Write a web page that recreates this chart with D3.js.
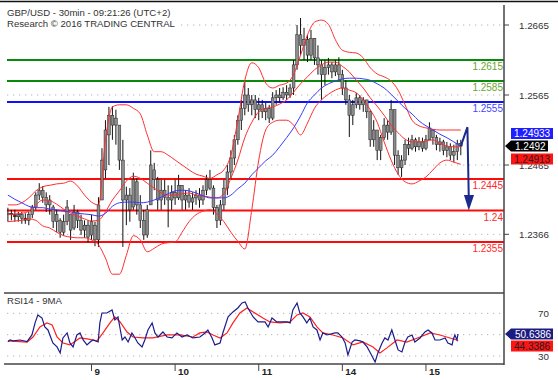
<!DOCTYPE html>
<html><head><meta charset="utf-8">
<script src="https://cdn.jsdelivr.net/npm/d3@7"></script>
<style>body{margin:0;background:#fff;}svg{display:block;font-family:"Liberation Sans",Arial,sans-serif;}</style>
</head><body>
<svg id="c" width="558" height="380"></svg>
<script>
// ---------- DATA (hourly candles, GBP/USD) ----------
const openP = [1.2394,1.2396,1.2394,1.2391,1.2394,1.2389,1.2386,1.2394,1.2405,1.2422,
1.2429,1.2419,1.2408,1.2405,1.2384,1.2386,1.2369,1.2384,1.2394,1.2375,
1.2398,1.2386,1.2372,1.2379,1.2365,1.2379,1.2358,1.2415,1.2458,1.2508,
1.2536,1.2522,1.2522,1.2472,1.2415,1.2422,1.2405,1.2441,1.2408,1.2386,
1.2365,1.2408,1.2458,1.2444,1.2415,1.2429,1.2419,1.2415,1.2426,1.2418,
1.2436,1.2415,1.2422,1.2412,1.2418,1.2422,1.2415,1.2429,1.2444,1.2432,
1.2404,1.2386,1.2408,1.2432,1.2455,1.2475,1.2501,1.2529,1.2546,1.2565,
1.2551,1.2558,1.2544,1.2551,1.2541,1.2546,1.2532,1.2561,1.2565,1.2561,
1.2569,1.2565,1.2575,1.2608,1.2651,1.2636,1.2644,1.2622,1.2646,1.2618,
1.2608,1.2594,1.2604,1.2608,1.2598,1.2608,1.2594,1.2575,1.2558,1.2536,
1.2551,1.2561,1.2551,1.2558,1.2541,1.2501,1.2515,1.2486,1.2504,1.2522,
1.2512,1.2544,1.2479,1.2461,1.2472,1.2494,1.2489,1.2501,1.2491,1.2498,
1.2489,1.2501,1.2515,1.2504,1.2494,1.2498,1.2486,1.2491,1.2479,1.2484,
1.2496];
const highP = [1.2404,1.2401,1.2401,1.2398,1.2398,1.2396,1.2398,1.2408,1.2426,1.2439,
1.2435,1.2426,1.2422,1.2408,1.2401,1.2389,1.2394,1.2415,1.2394,1.2408,
1.2401,1.2394,1.2386,1.2386,1.2394,1.2384,1.2419,1.2489,1.2529,1.2548,
1.2549,1.2544,1.2522,1.2501,1.2434,1.2432,1.2454,1.2446,1.2422,1.2401,
1.2408,1.2486,1.2468,1.2448,1.2444,1.2444,1.2436,1.2436,1.2444,1.2451,
1.2436,1.2429,1.2432,1.2426,1.2429,1.2432,1.2436,1.2451,1.2458,1.2436,
1.2408,1.2415,1.2444,1.2465,1.2486,1.2508,1.2536,1.2558,1.2584,1.2575,
1.2565,1.2565,1.2561,1.2558,1.2554,1.2551,1.2569,1.2572,1.2575,1.2576,
1.2579,1.2581,1.2615,1.2665,1.2675,1.2661,1.2651,1.2658,1.2646,1.2636,
1.2615,1.2615,1.2618,1.2612,1.2615,1.2619,1.2601,1.2586,1.2565,1.2558,
1.2568,1.2565,1.2562,1.2558,1.2544,1.2529,1.2515,1.2508,1.2532,1.2529,
1.2558,1.2544,1.2486,1.2479,1.2501,1.2504,1.2508,1.2504,1.2505,1.2504,
1.2508,1.2526,1.2515,1.2508,1.2504,1.2501,1.2498,1.2496,1.2494,1.2501,
1.2501];
const lowP = [1.2384,1.2386,1.2384,1.2384,1.2381,1.2381,1.2379,1.2389,1.2401,1.2415,
1.2411,1.2398,1.2394,1.2375,1.2369,1.2361,1.2364,1.2379,1.2358,1.2372,
1.2375,1.2365,1.2361,1.2354,1.2358,1.2349,1.2348,1.2415,1.2446,1.2465,
1.2501,1.2494,1.2458,1.2348,1.2379,1.2384,1.2401,1.2394,1.2375,1.2358,
1.2361,1.2408,1.2429,1.2401,1.2401,1.2408,1.2376,1.2401,1.2408,1.2415,
1.2401,1.2401,1.2404,1.2401,1.2408,1.2404,1.2408,1.2422,1.2429,1.2394,
1.2375,1.2379,1.2401,1.2422,1.2444,1.2465,1.2494,1.2515,1.2536,1.2541,
1.2536,1.2532,1.2529,1.2532,1.2529,1.2525,1.2529,1.2551,1.2554,1.2558,
1.2558,1.2561,1.2565,1.2601,1.2622,1.2615,1.2612,1.2615,1.2608,1.2594,
1.2558,1.2579,1.2594,1.2589,1.2592,1.2586,1.2565,1.2551,1.2505,1.2522,
1.2546,1.2544,1.2541,1.2532,1.2491,1.2491,1.2472,1.2472,1.2501,1.2501,
1.2508,1.2465,1.2451,1.2448,1.2465,1.2479,1.2486,1.2484,1.2486,1.2484,
1.2486,1.2501,1.2494,1.2486,1.2484,1.2479,1.2476,1.2472,1.2469,1.2472,
1.2479];
const closeP = [1.2396,1.2394,1.2391,1.2394,1.2389,1.2386,1.2394,1.2405,1.2422,1.2429,
1.2419,1.2408,1.2415,1.2384,1.2394,1.2369,1.2384,1.2405,1.2372,1.2398,
1.2386,1.2372,1.2379,1.2362,1.2384,1.2358,1.2408,1.2472,1.2515,1.2536,
1.2522,1.2532,1.2472,1.2415,1.2422,1.2401,1.2444,1.2408,1.2386,1.2365,
1.2401,1.2465,1.2444,1.2415,1.2429,1.2419,1.2415,1.2426,1.2418,1.2436,
1.2415,1.2422,1.2412,1.2418,1.2422,1.2415,1.2429,1.2444,1.2432,1.2404,
1.2386,1.2408,1.2432,1.2455,1.2475,1.2501,1.2529,1.2546,1.2565,1.2551,
1.2558,1.2544,1.2551,1.2541,1.2546,1.2532,1.2561,1.2565,1.2561,1.2569,
1.2565,1.2575,1.2608,1.2651,1.2636,1.2644,1.2622,1.2646,1.2618,1.2608,
1.2594,1.2604,1.2608,1.2598,1.2608,1.2594,1.2575,1.2558,1.2536,1.2551,
1.2561,1.2551,1.2558,1.2541,1.2501,1.2515,1.2486,1.2504,1.2522,1.2512,
1.2544,1.2479,1.2461,1.2472,1.2494,1.2489,1.2501,1.2491,1.2498,1.2489,
1.2501,1.2518,1.2504,1.2494,1.2498,1.2486,1.2491,1.2479,1.2484,1.2496,
1.2492];

// Indicator samples (hour index of the sample)
const bandT = [0,2,4,6,8,10,12,14,16,18,20,22,24,26,28,30,32,34,36,38,40,42,44,46,48,50,52,54,56,58,60,62,64,66,68,70,72,74,76,78,80,82,84,86,88,90,92,94,96,98,100,102,104,106,108,110,112,114,116,118,120,122,124,126,128,130];
const bbUpper = [1.2408,1.2408,1.2411,1.2418,1.2428,1.2434,1.2436,1.2438,1.2439,1.2442,
1.2435,1.2422,1.2412,1.2408,1.2501,1.2548,1.2551,1.2551,1.2546,1.2538,
1.2508,1.2484,1.2484,1.2479,1.2472,1.2465,1.2458,1.2452,1.2449,1.2446,
1.2451,1.2458,1.2479,1.2529,1.2586,1.2611,1.2604,1.2582,1.2575,1.2579,
1.2582,1.2594,1.2622,1.2651,1.2669,1.2672,1.2666,1.2644,1.2629,1.2626,
1.2625,1.2618,1.2604,1.2595,1.2591,1.2585,1.2572,1.2551,1.2529,1.2521,
1.2518,1.2516,1.2515,1.2515,1.2515,1.2515];
const bbMiddle = [1.2394,1.2395,1.2396,1.2399,1.2408,1.2415,1.2414,1.2409,1.2402,1.2396,
1.2392,1.2388,1.2385,1.2386,1.2398,1.2415,1.2428,1.2442,1.2449,1.2446,
1.2439,1.2432,1.2425,1.2422,1.2422,1.2424,1.2425,1.2422,1.2421,1.2419,
1.2418,1.2424,1.2446,1.2472,1.2504,1.2526,1.2541,1.2546,1.2548,1.2552,
1.2558,1.2569,1.2581,1.2591,1.2601,1.2608,1.2612,1.2612,1.2606,1.2598,
1.2586,1.2575,1.2561,1.2549,1.2536,1.2522,1.2511,1.2502,1.2498,1.2498,
1.2499,1.2501,1.2496,1.2492,1.2491,1.2491];
const bbLower = [1.2384,1.2385,1.2386,1.2388,1.2386,1.2378,1.2375,1.2369,1.2364,1.2362,
1.2361,1.2361,1.2358,1.2351,1.2332,1.2309,1.2309,1.2336,1.2364,1.2358,
1.2341,1.2346,1.2352,1.2354,1.2355,1.2369,1.2384,1.2394,1.2399,1.2401,
1.2395,1.2384,1.2369,1.2356,1.2345,1.2401,1.2472,1.2515,1.2526,1.2529,
1.2529,1.2522,1.2508,1.2525,1.2546,1.2558,1.2566,1.2572,1.2575,1.2572,
1.2568,1.2558,1.2544,1.2526,1.2498,1.2472,1.2452,1.2441,1.2438,1.2442,
1.2448,1.2458,1.2468,1.2472,1.2469,1.2466];
const maLong = [1.2422,1.2416,1.2411,1.2406,1.2404,1.2404,1.2402,1.2401,1.2399,1.2398,
1.2396,1.2395,1.2394,1.2392,1.2396,1.2406,1.2411,1.2412,1.2412,1.2411,
1.2412,1.2415,1.2419,1.2424,1.2428,1.2429,1.2428,1.2425,1.2421,1.2418,
1.2418,1.2418,1.2422,1.2431,1.2439,1.2451,1.2461,1.2471,1.2479,1.2491,
1.2504,1.2518,1.2535,1.2554,1.2565,1.2575,1.2581,1.2585,1.2588,1.2589,
1.2589,1.2588,1.2586,1.2581,1.2575,1.2566,1.2556,1.2546,1.2538,1.2528,
1.2521,1.2515,1.2509,1.2504,1.2498,1.2492];

const rsiT = [0,0.6,1.5,3.5,5.5,6.9,7.8,8.6,9.8,10.6,11.5,12.9,14.1,15.0,15.8,17.0,17.8,18.7,19.8,20.7,
21.6,22.7,23.6,24.4,25.9,26.4,27.0,28.4,29.9,30.7,31.6,32.8,33.6,34.5,35.6,36.5,37.3,38.5,39.3,40.2,
41.4,42.2,43.1,44.5,45.7,47.1,48.5,50.0,51.4,53.1,55.1,56.6,57.4,58.6,59.4,60.9,61.7,63.2,64.6,66.0,
67.2,68.1,68.9,70.4,71.8,73.8,74.7,75.8,77.2,78.1,80.1,81.0,81.8,83.0,83.8,84.7,85.8,86.7,87.6,88.7,
89.6,90.4,91.6,93.9,94.7,95.9,96.8,97.6,98.8,99.6,101.1,101.9,103.1,103.9,105.4,106.2,107.4,108.2,109.1,110.2,
111.1,112.0,113.1,114.0,114.8,116.0,116.8,118.3,119.7,120.6,121.7,122.6,124.0,125.5,126.3,127.5,127.8,128.3,128.9,129.2];
const rsi14 = [43.4,45.0,44.1,45.0,43.4,49.7,61.0,68.5,65.6,57.2,54.4,42.2,38.5,32.9,46.9,51.6,42.2,38.5,49.7,51.6,
45.0,40.4,43.1,45.0,43.1,61.0,70.3,70.3,73.1,63.8,66.6,45.0,47.8,43.1,51.6,46.9,42.2,38.5,45.0,54.4,
61.0,51.6,47.8,52.5,47.8,46.9,51.6,47.8,49.7,46.9,47.8,51.6,54.4,46.9,40.4,42.2,51.6,66.6,71.3,75.0,
79.7,80.6,75.0,66.6,61.9,61.9,57.2,65.6,61.9,61.9,61.9,61.0,73.1,79.7,70.3,66.6,61.0,65.6,57.2,54.4,
45.0,51.6,49.7,51.6,51.6,47.8,42.2,31.0,43.1,45.0,44.1,43.1,38.5,33.8,24.4,32.9,42.2,46.9,45.0,54.4,
45.0,35.7,33.8,43.1,47.8,49.7,43.1,46.9,52.5,54.4,51.6,45.0,45.0,46.9,42.2,40.4,45.0,49.7,45.0,50.6];
const rsiMaT = [0,5.5,7.2,9.2,11.2,12.7,14.1,15.8,17.8,20.7,22.7,25.6,27.3,29.3,30.7,32.2,34.2,35.9,38.8,41.6,
45.7,49.4,53.1,55.1,57.1,58.9,60.9,62.9,64.6,66.6,68.6,70.4,73.2,75.2,78.1,81.0,83.0,84.7,86.7,88.7,
90.4,93.3,96.2,99.1,101.9,104.8,106.8,108.8,111.7,114.5,118.3,121.2,124.0,126.9,128.9,129.2];
const rsiMa9 = [44.1,43.1,47.8,57.2,61.0,59.1,47.8,42.2,40.4,46.9,46.0,44.1,51.6,61.0,66.6,61.9,52.5,47.8,46.9,46.9,
49.7,49.7,47.8,51.6,52.5,49.7,46.9,51.6,61.0,70.3,75.0,71.3,65.6,61.9,61.0,61.9,68.5,70.3,66.6,57.2,
51.6,49.7,46.9,40.4,43.1,38.5,32.9,37.6,45.0,43.1,47.8,51.6,49.7,46.9,45.0,44.3];

const dayTickIdx = [24,48,72,96,120];
const dayTickLabels = ["9","10","11","14","15"];
const priceTicks = [1.2665,1.2565,1.2465,1.2366];
const priceTickLabels = ["1.2665","1.2565","1.2465","1.2366"];
const levelValues = [1.2615,1.2585,1.2555,1.2445,1.24,1.2355];
const levelLabels = ["1.2615","1.2585","1.2555","1.2445","1.24","1.2355"];
const levelKinds = ["g","g","b","r","r","r"];
const rsiTicks = [70,50,30];
const rsiTickLabels = ["70","","30"];
const arrowT = [130,131.9,132.3];
const arrowP = [1.2492,1.2519,1.2415];
const arrowHeadT = [130.9,133.8,132.3];
const arrowHeadP = [1.2422,1.2422,1.2400];
const quoteLabels = ["1.24933","1.2492","1.24913"];
const rsiLabels = ["50.6386","44.3386"];
const titleLines = ["GBP/USD - 30min - 09:21:26 (UTC+2)","Research \u00a9 2016 TRADING CENTRAL"];
const rsiTitle = "RSI14 - 9MA";

// ---------- DRAW ----------
const svg = d3.select("#c");
const x = d3.scaleLinear().domain([0,130]).range([7.9,460.8]);
const y = d3.scaleLinear().domain([1.2565,1.2465]).range([95,165]);
const yR = d3.scaleLinear().domain([30,70]).range([356,313.3]);
const L = 7, R = 504;

svg.append("rect").attr("width",558).attr("height",380).attr("fill","#fff");
const defs = svg.append("defs");
defs.append("clipPath").attr("id","cm").append("rect").attr("x",L).attr("y",3).attr("width",R-L).attr("height",289);
defs.append("clipPath").attr("id","cr").append("rect").attr("x",L).attr("y",294).attr("width",R-L).attr("height",69);

// grid (dotted)
svg.append("g").selectAll("line").data(priceTicks).join("line")
  .attr("x1",L).attr("x2",R).attr("y1",d=>y(d)).attr("y2",d=>y(d))
  .attr("stroke","#b4b4b4").attr("stroke-width",1).attr("stroke-dasharray","1.3,4.7");
svg.append("g").selectAll("line").data(rsiTicks).join("line")
  .attr("x1",L).attr("x2",R).attr("y1",d=>yR(d)).attr("y2",d=>yR(d))
  .attr("stroke","#b4b4b4").attr("stroke-width",1).attr("stroke-dasharray","1.3,4.7");

// title (white backing hides grid dots)
svg.append("rect").attr("x",5).attr("y",5).attr("width",173).attr("height",24).attr("fill","#fff");
svg.append("g").selectAll("text").data(titleLines).join("text")
  .attr("x",7).attr("y",(d,i)=>i?27:15.7).attr("font-size",9.6).attr("fill","#333").text(d=>d);

const main = svg.append("g").attr("clip-path","url(#cm)");
const col = {g:"#0a8a0a", b:"#1010ff", r:"#ff0a0a"};
const tcol = {g:"#6aa52e", b:"#4646ff", r:"#ff2a2a"};

// level lines
main.append("g").selectAll("line").data(levelValues).join("line")
  .attr("x1",L).attr("x2",R).attr("y1",d=>y(d)).attr("y2",d=>y(d))
  .attr("stroke",(d,i)=>col[levelKinds[i]]).attr("stroke-width",2);

// candles
const idx = d3.range(closeP.length);
const cg = main.append("g");
cg.selectAll("line").data(idx).join("line")
  .attr("x1",i=>x(i)).attr("x2",i=>x(i)).attr("y1",i=>y(highP[i])).attr("y2",i=>y(lowP[i]))
  .attr("stroke","#111").attr("stroke-width",1);
cg.selectAll("rect").data(idx).join("rect")
  .attr("x",i=>x(i)-1.4).attr("width",2.8)
  .attr("y",i=>y(Math.max(openP[i],closeP[i])))
  .attr("height",i=>Math.max(1,Math.abs(y(openP[i])-y(closeP[i]))))
  .attr("fill",i=>(Math.abs(openP[i]-closeP[i])<0.00035 && closeP[i]<openP[i])?"#8b1010":"#8c8c8c")
  .attr("stroke","#222").attr("stroke-width",0.5);

// bollinger + MA
const ln = (T,V)=>d3.line().x((d,i)=>x(T[i])).y(d=>y(d)).curve(d3.curveMonotoneX)(V);
[bbUpper,bbMiddle,bbLower].forEach(s=>{
  main.append("path").attr("d",ln(bandT,s)).attr("fill","none").attr("stroke","#ff2e2e").attr("stroke-width",1);
});
main.append("path").attr("d",ln(bandT,maLong)).attr("fill","none").attr("stroke","#3a3aff").attr("stroke-width",1);

// level labels
svg.append("g").selectAll("text").data(levelValues).join("text")
  .attr("x",503).attr("y",d=>y(d)+10).attr("text-anchor","end").attr("font-size",10)
  .attr("fill",(d,i)=>tcol[levelKinds[i]]).text((d,i)=>levelLabels[i]);

// arrow
main.append("path").attr("d",d3.line().x((d,i)=>x(arrowT[i])).y(d=>y(d))(arrowP))
  .attr("fill","none").attr("stroke","#1c2a8c").attr("stroke-width",2);
main.append("path").attr("d",d3.line().x((d,i)=>x(arrowHeadT[i])).y(d=>y(d))(arrowHeadP)+"Z")
  .attr("fill","#1c2a8c");

// RSI panel
const rl = (T,V)=>d3.line().x((d,i)=>x(T[i])).y(d=>yR(d))(V);
const rg = svg.append("g").attr("clip-path","url(#cr)");
rg.append("path").attr("d",rl(rsiMaT,rsiMa9)).attr("fill","none").attr("stroke","#ff2020").attr("stroke-width",1.2);
rg.append("path").attr("d",rl(rsiT,rsi14)).attr("fill","none").attr("stroke","#1c1c8c").attr("stroke-width",1.2);
svg.append("text").attr("x",7).attr("y",304).attr("font-size",9.6).attr("fill","#333").text(rsiTitle);

// frame lines
svg.append("line").attr("x1",0).attr("x2",558).attr("y1",1.5).attr("y2",1.5).attr("stroke","#111").attr("stroke-width",1.5);
svg.append("line").attr("x1",4).attr("x2",R).attr("y1",293).attr("y2",293).attr("stroke","#444").attr("stroke-width",1.5);
svg.append("line").attr("x1",4).attr("x2",R).attr("y1",364).attr("y2",364).attr("stroke","#444").attr("stroke-width",1.5);
svg.append("line").attr("x1",R).attr("x2",R).attr("y1",5).attr("y2",365).attr("stroke","#444").attr("stroke-width",1.5);

// right price axis
const ya = svg.append("g");
ya.selectAll("line").data(priceTicks).join("line")
  .attr("x1",R).attr("x2",R+5).attr("y1",d=>y(d)).attr("y2",d=>y(d)).attr("stroke","#444");
ya.selectAll("text").data(priceTicks).join("text")
  .attr("x",519).attr("y",d=>y(d)+3.5).attr("font-size",9.8).attr("fill","#333").text((d,i)=>priceTickLabels[i]);
const ra = svg.append("g");
ra.selectAll("text").data(rsiTicks).join("text")
  .attr("x",538).attr("y",d=>yR(d)+3.5).attr("font-size",9.8).attr("fill","#333").text((d,i)=>rsiTickLabels[i]);

// x axis
const xa = svg.append("g");
xa.selectAll("line").data(dayTickIdx).join("line")
  .attr("x1",d=>x(d)).attr("x2",d=>x(d)).attr("y1",364).attr("y2",371).attr("stroke","#444");
xa.selectAll("text").data(dayTickIdx).join("text")
  .attr("x",d=>x(d)+3).attr("y",374.5).attr("font-size",9.8).attr("fill","#222").attr("font-weight","bold")
  .text((d,i)=>dayTickLabels[i]);

// price badges
const cy = y(closeP[closeP.length-1]);
const bh = 11;
const badge = (yc, w, fill, tcolr, txt, pointer) => {
  const g = svg.append("g");
  const x0 = 511, x1 = x0 + w;
  let d = `M${x0},${yc-bh/2}H${x1}V${yc+bh/2}H${x0}`;
  d += pointer ? `L505,${yc}Z` : "Z";
  g.append("path").attr("d",d).attr("fill",fill);
  g.append("text").attr("x",x0+(pointer?4:3)).attr("y",yc+3.6).attr("font-size",10).attr("fill",tcolr).text(txt);
};
badge(cy-12.5, 42, "#1e1eff", "#fff", quoteLabels[0], false);
badge(cy+13, 42, "#ff1414", "#222", quoteLabels[2], false);
badge(cy, 37, "#000", "#fff", quoteLabels[1], true);
const ry = yR(rsi14[rsi14.length-1]);
badge(ry, 42, "#1c1c80", "#fff", rsiLabels[0], true);
badge(ry+12, 42, "#ff1414", "#222", rsiLabels[1], false);
</script>
</body></html>
